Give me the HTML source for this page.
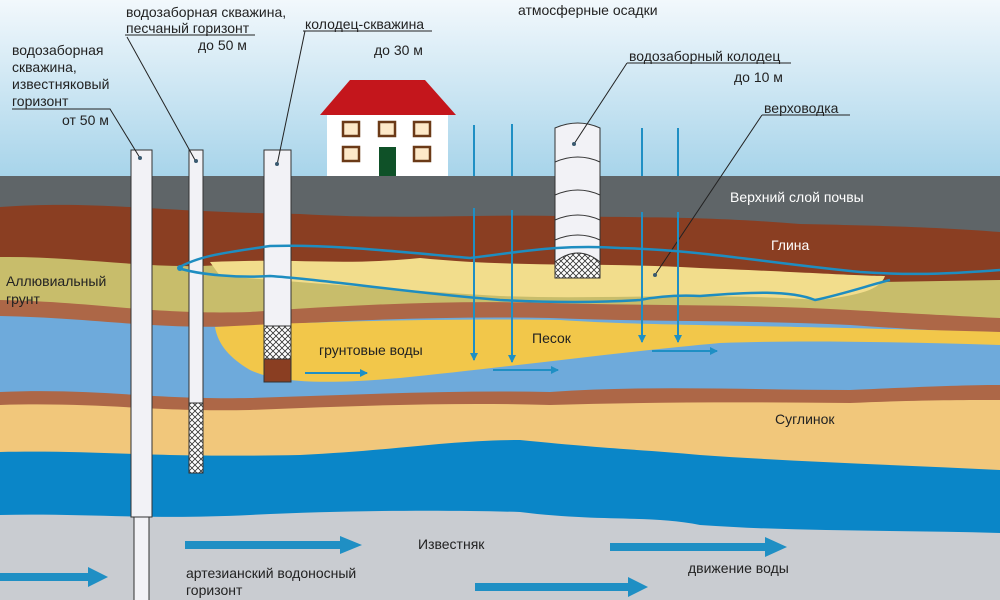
<!DOCTYPE html>
<html><head><meta charset="utf-8"><style>
html,body{margin:0;padding:0;width:1000px;height:600px;overflow:hidden;background:#fff}
svg{display:block}
text{font-family:"Liberation Sans",sans-serif;font-size:14px;fill:#222}
</style></head><body>
<svg width="1000" height="600" viewBox="0 0 1000 600" xmlns="http://www.w3.org/2000/svg">
<defs>
<linearGradient id="sky" x1="0" y1="0" x2="0" y2="1">
<stop offset="0" stop-color="#f2f8fc"/><stop offset="1" stop-color="#a7d4ea"/></linearGradient>
<pattern id="hatch" width="6" height="6" patternUnits="userSpaceOnUse">
<rect width="6" height="6" fill="#fff"/><path d="M0 0L6 6M6 0L0 6" stroke="#333" stroke-width="0.8"/></pattern>
<marker id="ah" markerWidth="8" markerHeight="8" refX="7" refY="4" orient="auto" markerUnits="userSpaceOnUse"><path d="M0 0L8 4L0 8z" fill="#1f8fc4"/></marker>
</defs>
<rect width="1000" height="177" fill="url(#sky)"/>
<rect y="176" width="1000" height="424" fill="#5f6568"/>
<path d="M0 207 C100 200 150 212 300 214 C400 220 480 214 560 216 C650 218 700 216 800 224 C900 226 950 228 1000 232 L1000 600 L0 600z" fill="#8a3e22"/>
<path d="M0 257 C80 256 150 270 220 265 L880 282 L1000 280 L1000 600 L0 600z" fill="#c8bd6b"/>
<path d="M210 262 C300 258 340 266 420 258 C520 268 600 262 700 268 C800 272 860 276 885 276 C880 290 860 295 820 300 C700 292 600 300 500 296 C400 290 300 282 220 276z" fill="#f2dd8c"/>
<path d="M0 300 C100 302 150 315 250 312 C350 305 450 300 550 303 C650 306 750 304 850 310 C920 314 960 316 1000 318 L1000 600 L0 600z" fill="#ad6747"/>
<path d="M0 316 C100 318 150 330 250 326 C350 320 450 316 550 318 C650 322 750 320 850 325 C920 330 960 332 1000 332 L1000 600 L0 600z" fill="#6eaadb"/>
<path d="M215 327 C300 322 450 318 560 320 C650 326 720 324 1000 332 L1000 345 C900 342 800 340 720 343 C620 352 500 368 400 378 C330 384 280 384 250 370 C230 358 218 345 215 327z" fill="#f2c74a"/>
<path d="M0 392 C100 388 150 400 250 398 C350 395 450 390 550 392 C650 385 750 390 850 390 C920 387 960 385 1000 385 L1000 600 L0 600z" fill="#ad6747"/>
<path d="M0 405 C100 402 150 412 250 410 C350 406 450 402 550 405 C650 402 750 402 850 403 C920 400 960 400 1000 400 L1000 600 L0 600z" fill="#f1c77b"/>
<path d="M0 452 C100 450 150 458 300 455 C400 450 450 440 520 440 C620 450 650 450 700 455 C800 462 900 465 1000 470 L1000 600 L0 600z" fill="#0a86c8"/>
<path d="M0 515 C80 513 150 520 250 515 C350 510 450 510 520 512 C600 522 650 515 700 525 C800 532 900 530 1000 533 L1000 600 L0 600z" fill="#c9ccd1"/>

<polygon points="320,115 350,80 425,80 456,115" fill="#c4161c"/>
<rect x="327" y="115" width="121" height="61" fill="#fff"/>
<g fill="#fde9c8" stroke="#6b3a17" stroke-width="2.5">
<rect x="343" y="122" width="16" height="14"/><rect x="379" y="122" width="16" height="14"/><rect x="414" y="122" width="16" height="14"/>
<rect x="343" y="147" width="16" height="14"/><rect x="414" y="147" width="16" height="14"/></g>
<rect x="379" y="147" width="17" height="29" fill="#0f5128"/>

<g stroke="#333" stroke-width="1">
<rect x="134" y="515" width="15" height="88" fill="#f2f2f6"/>
<rect x="131" y="150" width="21" height="367" fill="#f2f2f6"/>
<rect x="189" y="150" width="14" height="253" fill="#f2f2f6"/>
<rect x="189" y="403" width="14" height="70" fill="url(#hatch)"/>
<rect x="264" y="150" width="27" height="176" fill="#f2f2f6"/>
<rect x="264" y="326" width="27" height="33" fill="url(#hatch)"/>
<rect x="264" y="359" width="27" height="23" fill="#8a3e22"/>
<path d="M555 128 Q578 118 600 128 L600 278 L555 278z" fill="#f2f2f6"/>
<path d="M555 262 Q578 244 600 262 L600 278 L555 278z" fill="url(#hatch)"/>
<path d="M555 162 Q578 152 600 162 M555 195 Q578 185 600 195 M555 220 Q578 210 600 220 M555 240 Q578 230 600 240" fill="none"/>
</g>

<g stroke="#222" stroke-width="1" fill="none">
<path d="M12 109 L110 109 L140 158"/>
<path d="M125 35 L255 35"/><path d="M127 37 L195 160"/>
<path d="M303 31 L432 31"/><path d="M305 31 L277 165"/>
<path d="M627 63 L791 63"/><path d="M627 63 L574 144"/>
<path d="M762 115 L850 115"/><path d="M762 115 L655 275"/>
</g>
<g fill="#3a5a70"><circle cx="140" cy="158" r="2"/><circle cx="196" cy="161" r="2"/><circle cx="277" cy="164" r="2"/><circle cx="574" cy="144" r="2"/><circle cx="655" cy="275" r="2"/></g>

<path d="M178 268 C200 255 230 252 270 246 C330 244 400 252 470 258 C520 252 560 244 620 248 C700 250 760 262 860 272 C920 276 960 273 1000 270" fill="none" stroke="#1e8dc0" stroke-width="2.5"/>
<path d="M178 268 C200 275 240 278 270 276 C330 280 400 292 500 300 C560 303 610 302 640 300 C660 296 680 295 700 296 C750 292 790 290 815 300 C840 295 870 285 890 280" fill="none" stroke="#1e8dc0" stroke-width="2.5"/>
<circle cx="180" cy="268" r="3" fill="#1e8dc0"/>

<g stroke="#1f8fc4" stroke-width="2" fill="none">
<path d="M474 125V176M512 124V176M642 128V176M678 128V176"/>
<path d="M474 208V360" marker-end="url(#ah)"/>
<path d="M512 210V362" marker-end="url(#ah)"/>
<path d="M642 212V342" marker-end="url(#ah)"/>
<path d="M678 212V342" marker-end="url(#ah)"/>
<path d="M305 373H367" marker-end="url(#ah)"/>
<path d="M493 370H558" marker-end="url(#ah)"/>
<path d="M652 351H717" marker-end="url(#ah)"/>
</g>
<g fill="#1f8fc4">
<path d="M185 541H340V536L362 545L340 554V549H185z"/>
<path d="M0 573H88V567L108 577L88 587V581H0z"/>
<path d="M610 543H765V537L787 547L765 557V551H610z"/>
<path d="M475 583H628V577L648 587L628 597V591H475z"/>
</g>

<text x="12" y="55">водозаборная</text>
<text x="12" y="72">скважина,</text>
<text x="12" y="89">известняковый</text>
<text x="12" y="106">горизонт</text>
<text x="62" y="125">от 50 м</text>
<text x="126" y="17">водозаборная скважина,</text>
<text x="126" y="33">песчаный горизонт</text>
<text x="198" y="50">до 50 м</text>
<text x="305" y="29">колодец-скважина</text>
<text x="374" y="55">до 30 м</text>
<text x="518" y="15">атмосферные осадки</text>
<text x="629" y="61">водозаборный колодец</text>
<text x="734" y="82">до 10 м</text>
<text x="764" y="113">верховодка</text>
<text x="730" y="202" style="fill:#fff">Верхний слой почвы</text>
<text x="771" y="250" style="fill:#fff">Глина</text>
<text x="6" y="286">Аллювиальный</text>
<text x="6" y="304">грунт</text>
<text x="319" y="355">грунтовые воды</text>
<text x="532" y="343">Песок</text>
<text x="775" y="424">Суглинок</text>
<text x="418" y="549">Известняк</text>
<text x="186" y="578">артезианский водоносный</text>
<text x="186" y="595">горизонт</text>
<text x="688" y="573">движение воды</text>
</svg>
</body></html>
